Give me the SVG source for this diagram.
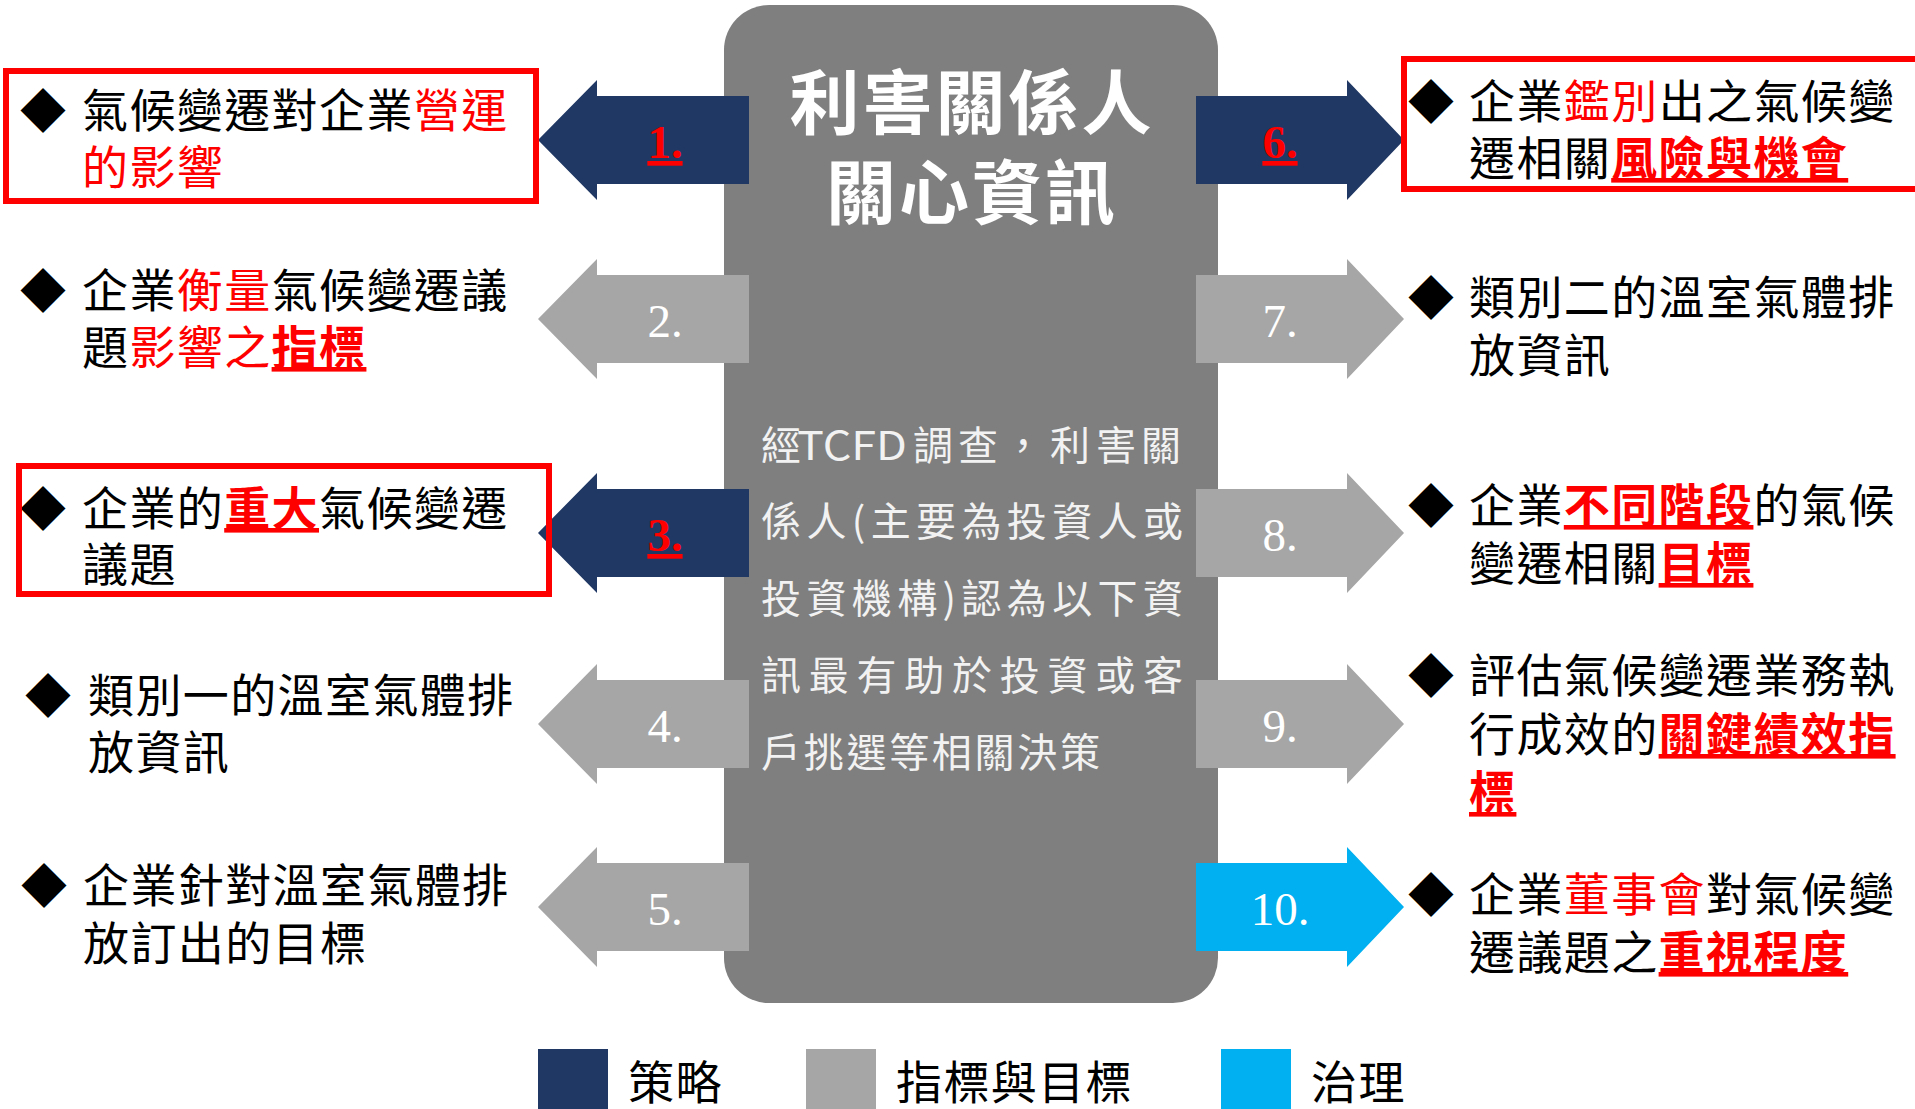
<svg xmlns="http://www.w3.org/2000/svg" width="1915" height="1109" viewBox="0 0 1915 1109">
<style>
.t{font-family:"Noto Sans CJK TC","Noto Sans CJK SC",sans-serif;font-size:46px;letter-spacing:1.4px;fill:#000}
.r{fill:#FF0000}
.b{font-weight:700}
.u{text-decoration:underline;text-decoration-thickness:3px;text-underline-offset:7px}
.d{font-family:"Noto Sans CJK TC","DejaVu Sans",sans-serif;font-size:46px;fill:#000;text-anchor:middle}
.n{font-family:"Liberation Serif","Times New Roman",serif;font-size:47px;fill:#fff;text-anchor:middle}
.nr{fill:#FF0000;font-weight:700;text-decoration:underline}
.p{font-family:"Noto Sans CJK TC","Noto Sans CJK SC",sans-serif;font-size:40px;fill:#F2F2F2}
.h{font-family:"Noto Sans CJK TC","Noto Sans CJK SC",sans-serif;font-size:70px;font-weight:700;fill:#fff;text-anchor:middle;letter-spacing:3px}
.box{fill:none;stroke:#FF0000;stroke-width:6}
.navy{fill:#203864}
.grey{fill:#A6A6A6}
.blue{fill:#00B0F0}
</style>
<defs>
<polygon id="la" points="538,0 597,-60 597,-44 749,-44 749,44 597,44 597,60"/>
<polygon id="ra" points="1196,-44 1347,-44 1347,-60 1404,0 1347,60 1347,44 1196,44"/>
</defs>

<g id="center">
<rect x="724" y="5" width="494" height="998" rx="45" ry="45" fill="#7F7F7F"/>
<text class="h"><tspan x="972" y="129">利害關係人</tspan><tspan x="972" y="219">關心資訊</tspan></text>
<text class="p" y="460"><tspan x="761">經</tspan><tspan x="797" textLength="110" lengthAdjust="spacingAndGlyphs">TCFD</tspan><tspan x="913">調</tspan><tspan x="958">查</tspan><tspan x="1003">，</tspan><tspan x="1050">利</tspan><tspan x="1096">害</tspan><tspan x="1141">關</tspan></text>
<text class="p" x="761" y="536" textLength="422" lengthAdjust="spacing">係人(主要為投資人或</text>
<text class="p" x="761" y="613" textLength="422" lengthAdjust="spacing">投資機構)認為以下資</text>
<text class="p" x="761" y="690" textLength="422" lengthAdjust="spacing">訊最有助於投資或客</text>
<text class="p" x="761" y="767" textLength="339" lengthAdjust="spacing">戶挑選等相關決策</text>
</g>

<g id="connectors">
<g id="arrow1"><use href="#la" class="navy" transform="translate(0,140)"/><text class="n nr" x="665" y="158">1.</text></g>
<g id="arrow2"><use href="#la" class="grey" transform="translate(0,319)"/><text class="n" x="665" y="337">2.</text></g>
<g id="arrow3"><use href="#la" class="navy" transform="translate(0,533)"/><text class="n nr" x="665" y="551">3.</text></g>
<g id="arrow4"><use href="#la" class="grey" transform="translate(0,724)"/><text class="n" x="665" y="742">4.</text></g>
<g id="arrow5"><use href="#la" class="grey" transform="translate(0,907)"/><text class="n" x="665" y="925">5.</text></g>
<g id="arrow6"><use href="#ra" class="navy" transform="translate(0,140)"/><text class="n nr" x="1280" y="158">6.</text></g>
<g id="arrow7"><use href="#ra" class="grey" transform="translate(0,319)"/><text class="n" x="1280" y="337">7.</text></g>
<g id="arrow8"><use href="#ra" class="grey" transform="translate(0,533)"/><text class="n" x="1280" y="551">8.</text></g>
<g id="arrow9"><use href="#ra" class="grey" transform="translate(0,724)"/><text class="n" x="1280" y="742">9.</text></g>
<g id="arrow10"><use href="#ra" class="blue" transform="translate(0,907)"/><text class="n" x="1280" y="925">10.</text></g>
</g>

<g id="item1">
<text class="d" x="43" y="127">◆</text>
<text class="t"><tspan x="82" y="127">氣候變遷對企業<tspan class="r">營運</tspan></tspan><tspan class="r" x="82" y="184">的影響</tspan></text>
<rect class="box" x="6" y="71" width="530" height="130"/>
</g>

<g id="item2">
<text class="d" x="43" y="307">◆</text>
<text class="t"><tspan x="82" y="307">企業<tspan class="r">衡量</tspan>氣候變遷議</tspan><tspan x="82" y="364">題<tspan class="r">影響之</tspan><tspan class="r b u">指標</tspan></tspan></text>
</g>

<g id="item3">
<text class="d" x="43" y="525">◆</text>
<text class="t"><tspan x="82" y="525">企業的<tspan class="r b u">重大</tspan>氣候變遷</tspan><tspan x="82" y="581">議題</tspan></text>
<rect class="box" x="19" y="466" width="530" height="128"/>
</g>

<g id="item4">
<text class="d" x="48" y="712">◆</text>
<text class="t"><tspan x="88" y="712">類別一的溫室氣體排</tspan><tspan x="88" y="769">放資訊</tspan></text>
</g>

<g id="item5">
<text class="d" x="44" y="902">◆</text>
<text class="t"><tspan x="83" y="902">企業針對溫室氣體排</tspan><tspan x="83" y="960">放訂出的目標</tspan></text>
</g>

<g id="item6">
<text class="d" x="1431" y="118">◆</text>
<text class="t"><tspan x="1469" y="118">企業<tspan class="r">鑑別</tspan>出之氣候變</tspan><tspan x="1469" y="175">遷相關<tspan class="r b u">風險與機會</tspan></tspan></text>
<rect class="box" x="1404" y="59" width="540" height="130"/>
</g>

<g id="item7">
<text class="d" x="1431" y="314">◆</text>
<text class="t"><tspan x="1469" y="314">類別二的溫室氣體排</tspan><tspan x="1469" y="372">放資訊</tspan></text>
</g>

<g id="item8">
<text class="d" x="1431" y="522">◆</text>
<text class="t"><tspan x="1469" y="522">企業<tspan class="r b u">不同階段</tspan>的氣候</tspan><tspan x="1469" y="580">變遷相關<tspan class="r b u">目標</tspan></tspan></text>
</g>

<g id="item9">
<text class="d" x="1431" y="692">◆</text>
<text class="t"><tspan x="1469" y="692">評估氣候變遷業務執</tspan><tspan x="1469" y="751">行成效的<tspan class="r b u">關鍵績效指</tspan></tspan><tspan class="r b u" x="1469" y="809">標</tspan></text>
</g>

<g id="item10">
<text class="d" x="1431" y="911">◆</text>
<text class="t"><tspan x="1469" y="911">企業<tspan class="r">董事會</tspan>對氣候變</tspan><tspan x="1469" y="969">遷議題之<tspan class="r b u">重視程度</tspan></tspan></text>
</g>

<g id="legend">
<rect x="538" y="1049" width="70" height="62" class="navy"/>
<text class="t" x="628" y="1099">策略</text>
<rect x="806" y="1049" width="70" height="62" class="grey"/>
<text class="t" x="896" y="1099">指標與目標</text>
<rect x="1221" y="1049" width="70" height="62" class="blue"/>
<text class="t" x="1311" y="1099">治理</text>
</g>
</svg>
